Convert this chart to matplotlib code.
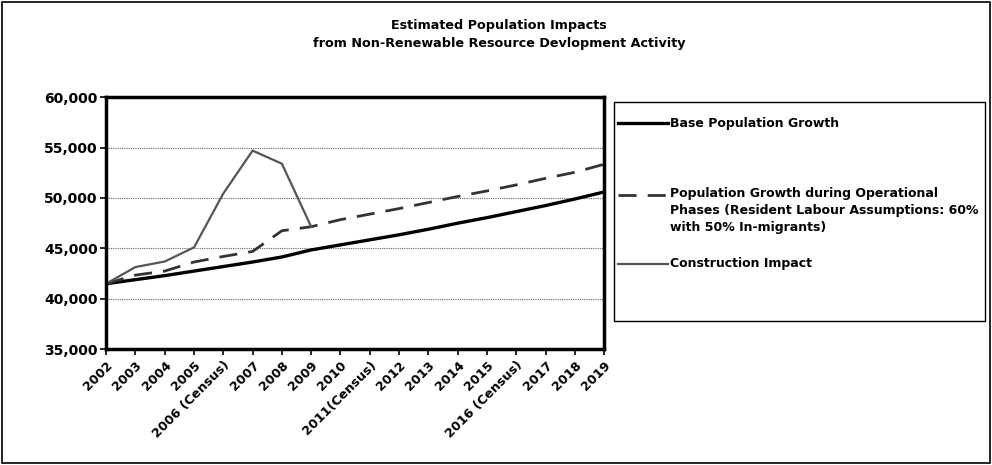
import matplotlib.pyplot as plt
from matplotlib.lines import Line2D
from matplotlib.patches import Rectangle
from matplotlib.ticker import FuncFormatter, MultipleLocator

plt.rcParams['font.family'] = ['DejaVu Sans']
plt.rcParams['font.weight'] = 'bold'

# years along the x axis (census years flagged)
years = ['2002', '2003', '2004', '2005', '2006 (Census)', '2007', '2008', '2009',
         '2010', '2011(Census)', '2012', '2013', '2014', '2015', '2016 (Census)',
         '2017', '2018', '2019']

base_growth = [41500, 41900, 42300, 42750, 43200, 43650, 44150, 44850, 45350,
               45850, 46350, 46900, 47500, 48050, 48650, 49250, 49900, 50600]
operational_growth = [41500, 42350, 42750, 43650, 44200, 44700, 46750, 47150, 47850,
                      48400, 48950, 49550, 50150, 50700, 51300, 51950, 52550, 53350]
# construction only runs 2002-2009
construction = [41500, 43150, 43700, 45100, 50450, 54700, 53400, 47150]

labels = ['Base Population Growth',
          'Population Growth during Operational\nPhases (Resident Labour Assumptions: 60%\nwith 50% In-migrants)',
          'Construction Impact']

fig = plt.figure(figsize=(9.92, 4.65), dpi=100)
ax = fig.add_axes([0.107, 0.249, 0.502, 0.542])

x = list(range(len(years)))
ops_dashes = (6.5, 4)
l_base, = ax.plot(x, base_growth, color='black', lw=2.4, solid_capstyle='butt')
l_ops, = ax.plot(x, operational_growth, color='#333333', lw=2.0, dashes=ops_dashes)
l_con, = ax.plot(x[:len(construction)], construction, color='#555555', lw=1.6)

ax.set_xlim(0, len(years) - 1)
ax.set_ylim(35000, 60000)
ax.yaxis.set_major_locator(MultipleLocator(5000))
ax.yaxis.set_major_formatter(FuncFormatter(lambda v, p: f'{int(v):,}'))
ax.set_xticks(x)
ax.set_xticklabels(years, rotation=45, ha='right', rotation_mode='anchor', fontsize=9.2)
ax.tick_params(axis='y', labelsize=10, length=4, width=1.2, direction='out', pad=2)
ax.tick_params(axis='x', length=4, width=1.2, direction='out', pad=3)
for t in ax.get_xticklabels() + ax.get_yticklabels():
    t.set_fontweight('bold')

ax.grid(axis='y', color='#666666', ls=(0, (1, 1)), lw=0.8)
for s in ax.spines.values():
    s.set_linewidth(2.5)

fig.text(0.503, 0.96, 'Estimated Population Impacts\nfrom Non-Renewable Resource Devlopment Activity',
         ha='center', va='top', fontsize=9.2, fontweight='bold', linespacing=1.55)

# legend box drawn on the figure, keys take the style of each series
W, H = 992, 465
fig.patches.append(Rectangle((614 / W, 1 - 321 / H), 371 / W, 219 / H,
                             transform=fig.transFigure, fill=False, ec='black', lw=1))
rows = [(l_base, labels[0], 123), (l_ops, labels[1], 195), (l_con, labels[2], 264)]
for line, text, py in rows:
    fy = 1 - py / H
    fig.lines.append(Line2D([618 / W, 668 / W], [fy, fy], transform=fig.transFigure,
                            color=line.get_color(), lw=line.get_linewidth(),
                            dashes=ops_dashes if line is l_ops else (None, None)))
    fig.text(670 / W, fy + (8 / H if '\n' in text else 0), text, ha='left',
             va='top' if '\n' in text else 'center',
             fontsize=9.0, fontweight='bold', linespacing=1.4,
             transform=fig.transFigure)

# frame round the whole picture
fig.patches.append(Rectangle((0.002, 0.004), 0.996, 0.992, transform=fig.transFigure,
                             fill=False, ec='black', lw=1.2))

fig.savefig('out.png', dpi=100)
